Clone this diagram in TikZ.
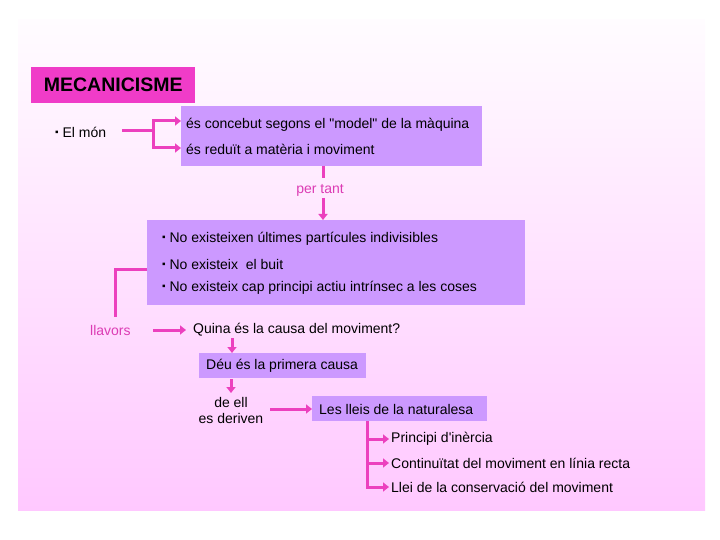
\documentclass[tikz,border=0pt]{standalone}
\usepackage{fontspec}
\setmainfont{Liberation Sans}[Ligatures=TeXOff]
\usetikzlibrary{arrows.meta}
\definecolor{bgtop}{RGB}{255,252,255}
\definecolor{bgbot}{RGB}{255,200,255}
\definecolor{lila}{RGB}{204,153,255}
\definecolor{mag}{RGB}{240,60,200}
\definecolor{conn}{RGB}{236,64,190}
\definecolor{pinktext}{RGB}{220,60,180}
\newcommand{\sqbul}{\raisebox{1.8pt}{\fontsize{10}{12}\selectfont ▪}}
\tikzset{
  txt/.style={inner sep=0pt, anchor=west, font=\fontsize{14}{16}\selectfont, text=black},
  ptxt/.style={txt, text=pinktext},
  box/.style={fill=lila, draw=none, inner sep=0pt},
  con/.style={draw=conn, line width=3pt},
  arr/.style={con, -{Triangle[length=6pt,width=9pt]}},
}
\begin{document}
\begin{tikzpicture}[x=1pt,y=-1pt]
\useasboundingbox (0,0) rectangle (720,540);
\shade[top color=bgtop, bottom color=bgbot] (18,20) rectangle (705,510);
% title
\node[fill=mag, minimum width=164pt, minimum height=36pt, inner sep=0pt, anchor=north west,
      font=\fontsize{19.5}{21}\selectfont\bfseries] (title) at (31,67) {MECANICISME};
% El mon
\node[txt] (mon) at (55,132) {\sqbul\ El món};
\node[box, minimum width=301pt, minimum height=60pt, anchor=north west] (b1) at (181,106) {};
\node[txt] (t1a) at (186,125) {és concebut segons el "model" de la màquina};
\node[txt] (t1b) at (186,149) {és reduït a matèria i moviment};
\coordinate (m0) at (122,131);
\coordinate (m1) at (153,131);
\coordinate (mA) at (181,121);
\coordinate (mB) at (181,148);
\draw[con] (m0) -- (m1);
\draw[arr] (m1) |- (mA);
\draw[arr] (m1) |- (mB);
% per tant
\node[ptxt, anchor=center] (pt) at (320,190) {per tant};
\draw[con] (323,166) -- (323,178);
\node[box, minimum width=378pt, minimum height=85pt, anchor=north west] (b2) at (147,220) {};
\draw[arr] (323,198) -- (b2.north -| 323,0);
\node[txt] (t2a) at (162,239) {\sqbul\ No existeixen últimes partícules indivisibles};
\node[txt] (t2b) at (162,264) {\sqbul\ No existeix\ \ el buit};
\node[txt] (t2c) at (162,288) {\sqbul\ No existeix cap principi actiu intrínsec a les coses};
% llavors
\coordinate (lv) at (115,317);
\draw[con] (b2.west |- 0,269) -| (lv);
\node[ptxt] (llav) at (90,330) {llavors};
\node[txt] (q) at (193,330) {Quina és la causa del moviment?};
\coordinate (qa) at (186,330);
\draw[arr] (153,330) -- (qa);
% Deu
\node[box, minimum width=167pt, minimum height=25pt, anchor=north west] (deu) at (199,353) {};
\node[txt] (deut) at (206,365.5) {Déu és la primera causa};
\draw[arr] (232,338) -- (232,353);
\node[txt, anchor=center, align=center, font=\fontsize{14}{16}\selectfont] (del) at (231,410) {de ell\\es deriven};
\draw[arr] (231,379) -- (231,393);
% Lleis
\node[box, minimum width=175pt, minimum height=25pt, anchor=north west] (ll) at (312,396) {};
\node[txt] (llt) at (319,409) {Les lleis de la naturalesa};
\draw[arr] (270,409) -- (312,409);
\coordinate (v0) at (367,421);
\node[txt] (p1) at (391,439) {Principi d'inèrcia};
\node[txt] (p2) at (391,463) {Continuïtat del moviment en línia recta};
\node[txt] (p3) at (391,487) {Llei de la conservació del moviment};
\coordinate (a1) at (389,439);
\coordinate (a2) at (389,463);
\coordinate (a3) at (389,487);
\draw[arr] (v0) |- (a3);
\draw[arr] (367,439) -- (a1);
\draw[arr] (367,463) -- (a2);
\end{tikzpicture}
\end{document}
